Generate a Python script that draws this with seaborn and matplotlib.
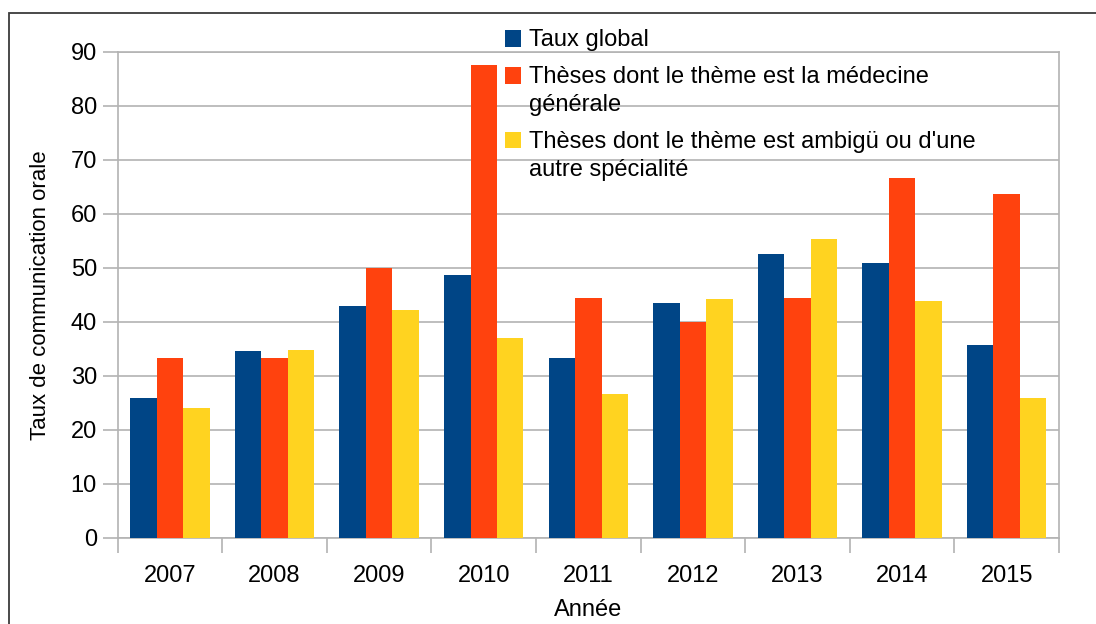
"""Taux de communication orale par année (reproduction du graphique LibreOffice)."""

import seaborn as sns
import matplotlib.pyplot as plt
from matplotlib.patches import Rectangle
import pandas as pd

annees = ['2007', '2008', '2009', '2010', '2011', '2012', '2013', '2014', '2015']

taux_global = [25.9, 34.6, 42.9, 48.6, 33.3, 43.4, 52.5, 50.8, 35.7]
medecine_generale = [33.3, 33.3, 50.0, 87.5, 44.4, 40.0, 44.4, 66.7, 63.6]
autre_specialite = [24.0, 34.7, 42.1, 37.0, 26.6, 44.2, 55.3, 43.8, 25.9]

series = ['Taux global',
          'Thèses dont le thème est la médecine\ngénérale',
          "Thèses dont le thème est ambigü ou d'une\nautre spécialité"]

color_palette = {
    series[0]: '#004586',
    series[1]: '#ff420e',
    series[2]: '#ffd320',
}

# long format for seaborn
df = pd.DataFrame({
    'annee': annees * 3,
    'taux': taux_global + medecine_generale + autre_specialite,
    'serie': [series[0]] * 9 + [series[1]] * 9 + [series[2]] * 9,
})


class SquareHandler:
    """Legend square aligned with the first line of the label."""

    def __init__(self, shift=0):
        self.shift = shift

    def legend_artist(self, legend, orig_handle, fontsize, handlebox):
        x0, y0 = handlebox.xdescent, handlebox.ydescent
        patch = Rectangle((x0, y0 + self.shift), handlebox.width, handlebox.height,
                          facecolor=orig_handle.get_facecolor(), linewidth=0,
                          transform=handlebox.get_transform())
        handlebox.add_artist(patch)
        return patch


sns.set_style('white')
plt.rcParams['font.family'] = ['Liberation Sans', 'DejaVu Sans']
plt.rcParams['text.color'] = 'black'
plt.rcParams['axes.labelcolor'] = 'black'

fig = plt.figure(figsize=(10.96, 6.24), dpi=100)
ax = fig.add_axes([0.1074, 0.1383, 0.8588, 0.7788])

sns.barplot(data=df, x='annee', y='taux', hue='serie', palette=color_palette,
            width=0.76, saturation=1, linewidth=0, ax=ax, zorder=3)

grid_color = '#b3b3b3'
ax.set_ylim(0, 90)
ax.set_xlim(-0.5, len(annees) - 0.5)
ax.set_yticks(range(0, 91, 10))
ax.yaxis.grid(True, color=grid_color, linewidth=1.2, zorder=0)
ax.set_axisbelow(True)

for side in ['left', 'right', 'bottom', 'top']:
    ax.spines[side].set_color(grid_color)
    ax.spines[side].set_linewidth(1.2)

# ticks between the categories, like LibreOffice
ax.set_xticks([i - 0.5 for i in range(len(annees) + 1)], minor=True)
ax.tick_params(axis='x', which='major', length=0, labelsize=17, pad=20,
               labelcolor='black')
ax.tick_params(axis='x', which='minor', length=11, color=grid_color, width=1.2,
               direction='out', bottom=True)
ax.tick_params(axis='y', length=11, color=grid_color, width=1.2, labelsize=17,
               direction='out', left=True, pad=4, labelcolor='black')

ax.set_xlabel('Année', fontsize=17, labelpad=8, color='black')
ax.set_ylabel('Taux de communication orale', fontsize=16, labelpad=14, color='black')

handles, labels = ax.get_legend_handles_labels()
shifts = [0 if '\n' not in lab else 11.5 for lab in labels]
leg = ax.legend(handles, labels, loc='upper left', bbox_to_anchor=(0.452, 0.968),
                bbox_transform=fig.transFigure, frameon=False, fontsize=17,
                handlelength=0.68, handleheight=0.68, handletextpad=0.35,
                labelspacing=0.62, borderaxespad=0,
                handler_map={h: SquareHandler(s) for h, s in zip(handles, shifts)})
for txt in leg.get_texts():
    txt.set_linespacing(1.35)
    txt.set_color('black')

# outer frame of the original chart (cropped on the right and bottom)
fig.patches.append(Rectangle((9 / 1096, -0.1), 1.2, 1 - 13 / 624 + 0.1,
                             transform=fig.transFigure, fill=False,
                             edgecolor='#3c3c3c', linewidth=1.3))

plt.savefig('out.png', dpi=100)
plt.close()
